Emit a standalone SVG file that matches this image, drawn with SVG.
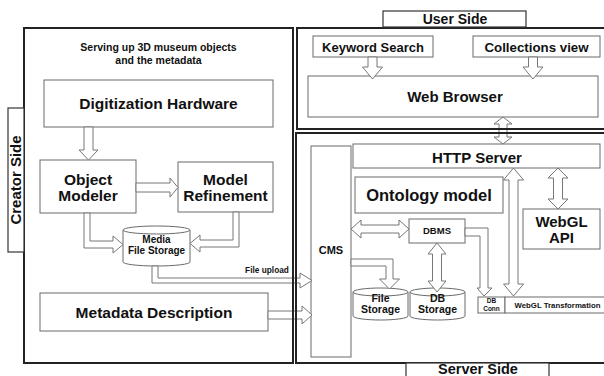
<svg xmlns="http://www.w3.org/2000/svg" width="604" height="376" viewBox="0 0 604 376">
  <style>
    .box { fill: #ffffff; stroke: #6a6a6a; stroke-width: 1; }
    .frame { fill: none; stroke: #222222; stroke-width: 2; }
    .tab { fill: #ffffff; stroke: #333333; stroke-width: 1.2; }
    .arrow { fill: #ffffff; stroke: #777777; stroke-width: 1; stroke-linejoin: miter; }
    text { font-family: "Liberation Sans", Arial, sans-serif; font-weight: bold; fill: #111111; text-anchor: middle; }
  </style>
  <rect width="604" height="376" fill="#ffffff"/>

  <!-- Creator side nodes -->
  <g id="digitization-hardware">
    <rect class="box" x="44" y="80" width="229" height="47"/>
    <text x="158.5" y="109" font-size="15.5">Digitization Hardware</text>
  </g>
  <g id="object-modeler">
    <rect class="box" x="40" y="160" width="96" height="53"/>
    <text x="88" y="185" font-size="15.5">Object</text>
    <text x="88" y="200.5" font-size="15.5">Modeler</text>
  </g>
  <g id="model-refinement">
    <rect class="box" x="178" y="162" width="95" height="50"/>
    <text x="225.5" y="185" font-size="15.5">Model</text>
    <text x="225.5" y="200.5" font-size="15.5">Refinement</text>
  </g>
  <g id="media-file-storage">
    <path class="box" d="M123,230 A33.5,4 0 0 1 190,230 L190,262 A33.5,4 0 0 1 123,262 Z"/>
    <path class="box" fill="none" d="M123,230 A33.5,4 0 0 0 190,230"/>
    <text x="156.5" y="243" font-size="10">Media</text>
    <text x="156.5" y="254" font-size="10">File Storage</text>
  </g>
  <g id="metadata-description">
    <rect class="box" x="40" y="293" width="228" height="38"/>
    <text x="154" y="318" font-size="15.5">Metadata Description</text>
  </g>

  <!-- User side nodes -->
  <g id="keyword-search">
    <rect class="box" x="313" y="36" width="120" height="21"/>
    <text x="373" y="52" font-size="13">Keyword Search</text>
  </g>
  <g id="collections-view">
    <rect class="box" x="473" y="36" width="127" height="21"/>
    <text x="536.5" y="52" font-size="13.3">Collections view</text>
  </g>
  <g id="web-browser">
    <rect class="box" x="308" y="76" width="290" height="41"/>
    <text x="455" y="102" font-size="15">Web Browser</text>
  </g>

  <!-- Server side nodes -->
  <g id="cms">
    <rect class="box" x="311" y="146" width="40" height="211"/>
    <text x="331" y="254" font-size="11">CMS</text>
  </g>
  <g id="http-server">
    <rect class="box" x="353" y="144" width="247" height="24"/>
    <text x="477" y="162.5" font-size="15">HTTP Server</text>
  </g>
  <g id="ontology-model">
    <rect class="box" x="355" y="177" width="148" height="36"/>
    <text x="429" y="201" font-size="16.5">Ontology model</text>
  </g>
  <g id="webgl-api">
    <rect class="box" x="523" y="209" width="77" height="40"/>
    <text x="561.5" y="226.5" font-size="15">WebGL</text>
    <text x="561.5" y="242.5" font-size="15">API</text>
  </g>
  <g id="dbms">
    <rect class="box" x="409" y="219" width="56" height="24"/>
    <text x="437" y="234" font-size="9.5">DBMS</text>
  </g>
  <g id="file-storage">
    <path class="box" d="M353,292 A27.5,4 0 0 1 408,292 L408,316 A27.5,4 0 0 1 353,316 Z"/>
    <path class="box" fill="none" d="M353,292 A27.5,4 0 0 0 408,292"/>
    <text x="380.5" y="302" font-size="10.5">File</text>
    <text x="380.5" y="313" font-size="10.5">Storage</text>
  </g>
  <g id="db-storage">
    <path class="box" d="M410,292 A27.5,4 0 0 1 465,292 L465,316 A27.5,4 0 0 1 410,316 Z"/>
    <path class="box" fill="none" d="M410,292 A27.5,4 0 0 0 465,292"/>
    <text x="437.5" y="302" font-size="10.5">DB</text>
    <text x="437.5" y="313" font-size="10.5">Storage</text>
  </g>
  <g id="db-conn">
    <rect class="box" x="478" y="297" width="27" height="16"/>
    <text x="491.5" y="302.5" font-size="6.5">DB</text>
    <text x="491.5" y="311" font-size="6.5">Conn</text>
  </g>
  <g id="webgl-transformation">
    <rect class="box" x="505" y="297" width="110" height="16"/>
    <text x="557.5" y="308" font-size="7.8">WebGL Transformation</text>
  </g>

  <!-- Connectors: hollow block arrows -->
  <g id="connectors">
    <polygon class="arrow" points="84,127 93,127 93,150 98,150 88.5,160 79,150 84,150"/>
    <polygon class="arrow" points="136,183 170,183 170,178 178,187.5 170,197 170,192 136,192"/>
    <polygon class="arrow" points="84,213 90,213 90,241 113,241 113,236 123,244.5 113,253 113,248 84,248"/>
    <polygon class="arrow" points="239,212 239,247 200,247 200,252 190,243.5 200,235 200,240 233,240 233,212"/>
    <polygon class="arrow" points="152,266 158,266 158,278 300,278 300,273 312,280.5 300,288 300,283 152,283"/>
    <polygon class="arrow" points="268,311 302,311 302,306 312,315 302,324 302,319 268,319"/>
    <polygon class="arrow" points="368,57 377,57 377,67 382.5,67 372.5,79 362.5,67 368,67"/>
    <polygon class="arrow" points="528.5,57 537.5,57 537.5,67 543,67 533,79 523,67 528.5,67"/>
    <polygon class="arrow" points="503,117 512,124 507,124 507,137 512,137 503,144 494,137 499,137 499,124 494,124"/>
    <polygon class="arrow" points="558,168 568,178 562.5,178 562.5,199 568,199 558,209 548,199 553.5,199 553.5,178 548,178"/>
    <polygon class="arrow" points="513.5,168 523.5,180 518,180 518,284 523.5,284 513.5,296 503.5,284 509,284 509,180 503.5,180"/>
    <polygon class="arrow" points="351,229 361,220 361,225 399,225 399,220 409,229 399,238 399,233 361,233 361,238"/>
    <polygon class="arrow" points="437,243 446,254 441.5,254 441.5,281 446,281 437,292 428,281 432.5,281 432.5,254 428,254"/>
    <polygon class="arrow" points="465,228 488,228 488,288 492,288 484,296 477,288 480,288 480,236 465,236"/>
    <polygon class="arrow" points="351,259 393,259 393,279 399.5,279 389.5,289 379.5,279 386,279 386,266 351,266"/>
  </g>

  <!-- Side frames and their tabs -->
  <g id="creator-side">
    <rect class="frame" x="24" y="28" width="269" height="335"/>
    <rect class="tab" x="8" y="108" width="16" height="144"/>
    <text transform="translate(21,180) rotate(-90)" font-size="15">Creator Side</text>
    <text x="158.5" y="51" font-size="10.5">Serving up 3D museum objects</text>
    <text x="158.5" y="64" font-size="10.5">and the metadata</text>
  </g>
  <g id="user-side">
    <rect class="frame" x="297" y="28" width="320" height="101"/>
    <rect class="tab" x="383" y="11" width="143" height="16"/>
    <text x="455" y="24" font-size="14">User Side</text>
  </g>
  <g id="server-side">
    <rect class="frame" x="296" y="133" width="321" height="230"/>
    <rect class="tab" x="406" y="363" width="143" height="20"/>
    <text x="478" y="374" font-size="14.5">Server Side</text>
  </g>
  <text x="267" y="273" font-size="8.3">File upload</text>
</svg>
